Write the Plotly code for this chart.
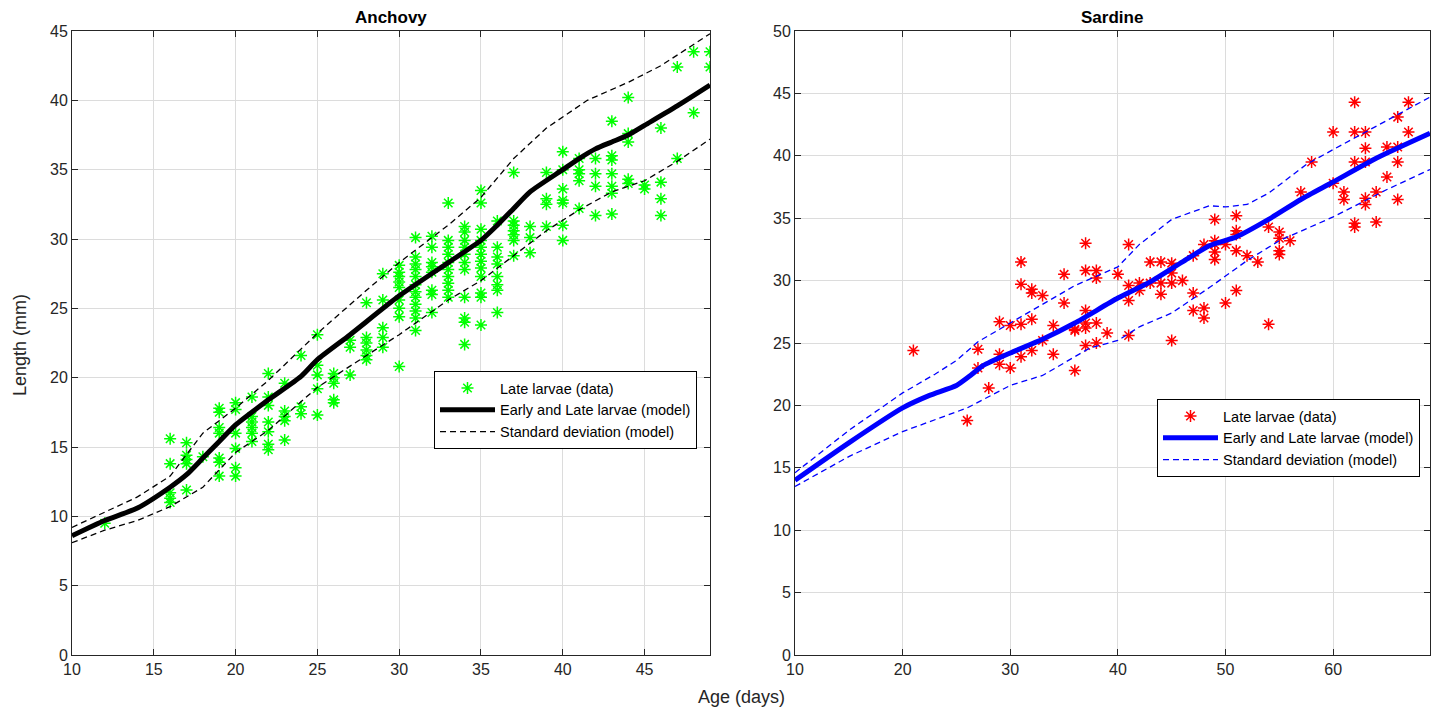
import plotly.graph_objects as go

# ---------------- Anchovy data ----------------
anch_days = {
    12: [9.5],
    16: [15.6, 13.8, 11.7, 11.3, 11.0],
    17: [15.3, 14.4, 14.1, 13.8, 11.9],
    18: [14.3],
    19: [17.8, 17.5, 16.4, 16.0, 14.2, 13.9, 12.9],
    20: [18.2, 17.7, 16.0, 14.9, 13.5, 12.9],
    21: [18.6, 17.2, 16.8, 16.4, 16.0, 15.4],
    22: [20.3, 18.6, 18.0, 16.8, 16.1, 15.2, 14.8],
    23: [19.6, 17.6, 17.2, 16.9, 15.5],
    24: [21.6, 17.9, 17.4],
    25: [23.1, 20.9, 20.2, 19.2, 17.3],
    26: [20.3, 20.0, 19.6, 18.4, 18.2],
    27: [22.7, 22.2, 20.2],
    28: [25.4, 22.9, 22.5, 22.0, 21.6, 21.3],
    29: [27.5, 25.6, 23.6, 22.9, 22.2],
    30: [28.1, 27.6, 27.3, 26.9, 26.5, 25.6, 25.0, 24.4, 20.8],
    31: [30.1, 28.7, 28.2, 27.8, 27.3, 26.7, 26.2, 25.8, 25.3, 24.8, 24.3, 23.4],
    32: [30.2, 29.4, 28.3, 28.0, 27.6, 26.3, 26.0, 24.7],
    33: [32.6, 29.9, 29.4, 28.9, 28.3, 27.8, 27.3, 26.8, 26.3, 25.8],
    34: [30.9, 30.5, 29.9, 29.4, 28.9, 28.3, 27.8, 25.8, 24.3, 24.0, 22.4],
    35: [33.5, 32.6, 30.7, 29.9, 29.4, 28.9, 28.4, 27.9, 27.3, 26.1, 25.8, 23.8],
    36: [31.3, 29.4, 28.7, 28.2, 27.3, 26.7, 26.3, 24.7],
    37: [34.8, 31.3, 31.0, 30.6, 30.3, 29.9, 28.8],
    38: [30.9, 30.1, 29.0],
    39: [34.8, 32.9, 32.5, 30.9],
    40: [36.3, 35.0, 33.6, 32.8, 32.6, 31.0, 29.9],
    41: [35.8, 35.0, 34.7, 34.2, 32.2],
    42: [35.8, 34.7, 33.8, 31.7],
    43: [38.5, 36.0, 35.7, 34.7, 33.8, 33.3, 31.8],
    44: [40.2, 37.6, 37.0, 34.3, 34.0],
    45: [33.9, 33.6],
    46: [38.0, 34.1, 32.9, 31.7],
    47: [42.4, 35.8],
    48: [43.5, 39.1],
    49: [43.5, 42.4],
}
anch_age = [d for d, vals in anch_days.items() for _ in vals]
anch_len = [v for d, vals in anch_days.items() for v in vals]

anch_model_age = [10, 12, 14, 16, 17, 18, 19, 20, 22, 24, 25, 27, 30, 33, 35, 36, 37, 38, 40, 41, 42, 43, 44, 45, 47, 49]
anch_model_len = [8.6, 9.7, 10.6, 12.1, 13.0, 14.2, 15.4, 16.6, 18.4, 20.1, 21.3, 23.1, 25.9, 28.3, 29.9, 31.0, 32.2, 33.4, 35.0, 35.8, 36.5, 37.0, 37.5, 38.2, 39.6, 41.1]

anch_up_age = [10, 12, 14, 16, 18, 19, 20, 22, 25, 28, 30, 33, 35, 37, 39, 41.5, 44, 46, 49]
anch_up_len = [9.2, 10.3, 11.4, 12.9, 16.0, 16.9, 17.8, 19.8, 23.2, 26.3, 28.3, 31.0, 33.0, 35.8, 38.0, 40.0, 41.3, 42.5, 44.8]

anch_lo_age = [10, 12, 14, 16, 18, 20, 22, 25, 28, 30, 33, 35, 37, 39, 41, 43, 45, 47, 49]
anch_lo_len = [8.1, 9.0, 9.7, 10.7, 12.1, 14.6, 16.2, 19.3, 21.6, 23.1, 25.6, 27.0, 28.8, 30.6, 32.1, 33.4, 34.2, 35.6, 37.2]

# ---------------- Sardine data ----------------
sard_days = {
    21: [24.4],
    26: [18.8],
    27: [24.5, 23.0],
    28: [21.4],
    29: [26.7, 24.1, 23.3],
    30: [26.4, 23.0],
    31: [31.5, 29.7, 26.5, 23.9],
    32: [29.3, 29.0, 26.9, 24.4],
    33: [28.8, 25.2],
    34: [26.4, 24.1],
    35: [30.5, 28.2],
    36: [26.1, 26.0, 22.8],
    37: [33.0, 30.8, 27.6, 26.6, 26.2, 24.8],
    38: [30.8, 30.2, 26.6, 25.0],
    39: [25.8],
    40: [30.5],
    41: [32.9, 29.6, 28.4, 25.6],
    42: [29.8, 29.2],
    43: [31.5, 29.8],
    44: [31.5, 29.8, 28.9],
    45: [31.4, 30.6, 29.8, 25.2],
    46: [30.0],
    47: [32.0, 29.0, 27.6],
    48: [32.9, 27.8, 27.0],
    49: [34.9, 33.2, 32.9, 32.3, 31.7],
    50: [32.9, 28.2],
    51: [35.2, 34.0, 33.7, 32.4, 29.2],
    52: [32.0],
    53: [31.5],
    54: [34.3, 26.5],
    55: [33.9, 33.4, 32.4, 32.1],
    56: [33.2],
    57: [37.1],
    58: [39.5],
    60: [41.9, 37.8],
    61: [37.1, 36.5],
    62: [44.3, 41.9, 39.5, 34.6, 34.3],
    63: [41.9, 40.6, 39.5, 36.6, 36.1],
    64: [37.1, 34.7],
    65: [40.7, 38.3],
    66: [43.1, 40.7, 39.5, 36.5],
    67: [44.3, 41.9],
}
sard_age = [d for d, vals in sard_days.items() for _ in vals]
sard_len = [v for d, vals in sard_days.items() for v in vals]

sard_model_age = [10, 15, 20, 22.5, 25, 26.3, 27.5, 30, 33, 36, 40, 43, 46, 48.5, 51, 54, 57, 60, 64, 69]
sard_model_len = [14.0, 17.0, 19.8, 20.8, 21.6, 22.4, 23.2, 24.2, 25.3, 26.6, 28.6, 29.9, 31.5, 32.8, 33.5, 34.9, 36.5, 37.9, 39.8, 41.8]

sard_up_age = [10, 15, 20, 23, 25, 27, 30, 33, 36, 40, 42, 45, 48.5, 50, 52, 54, 57.5, 60, 65, 69]
sard_up_len = [14.6, 18.0, 21.0, 22.5, 23.6, 25.1, 26.6, 28.1, 29.6, 31.1, 32.9, 34.9, 36.0, 35.9, 36.1, 37.0, 39.3, 40.5, 42.8, 44.7]

sard_lo_age = [10, 15, 20, 26, 30, 33, 37.4, 40, 42, 45, 48.6, 52, 55, 60, 65, 69]
sard_lo_len = [13.5, 15.9, 17.9, 19.8, 21.6, 22.4, 24.6, 25.2, 26.3, 27.4, 29.5, 31.6, 33.2, 35.1, 37.3, 38.9]

anch_xticks = [10, 15, 20, 25, 30, 35, 40, 45]
anch_yticks = [0, 5, 10, 15, 20, 25, 30, 35, 40, 45]
sard_xticks = [10, 20, 30, 40, 50, 60]
sard_yticks = [0, 5, 10, 15, 20, 25, 30, 35, 40, 45, 50]

FONT = "Liberation Sans, Arial, Helvetica, sans-serif"
AX = "#262626"
DASH = "6px,4px"

fig = go.Figure()

# Anchovy
fig.add_trace(go.Scatter(x=anch_age, y=anch_len, mode="markers", name="Late larvae (data)",
                         marker=dict(symbol="asterisk-open", size=10, color="#00ff00",
                                     line=dict(color="#00ff00", width=1.5)),
                         xaxis="x", yaxis="y", legend="legend"))
fig.add_trace(go.Scatter(x=anch_model_age, y=anch_model_len, mode="lines", line_shape="spline",
                         name="Early and Late larvae (model)",
                         line=dict(color="black", width=5, smoothing=0.6), xaxis="x", yaxis="y", legend="legend"))
fig.add_trace(go.Scatter(x=anch_up_age, y=anch_up_len, mode="lines",
                         name="Standard deviation (model)",
                         line=dict(color="black", width=1.3, dash=DASH),
                         xaxis="x", yaxis="y", legend="legend"))
fig.add_trace(go.Scatter(x=anch_lo_age, y=anch_lo_len, mode="lines", showlegend=False,
                         line=dict(color="black", width=1.3, dash=DASH),
                         xaxis="x", yaxis="y"))

# Sardine
fig.add_trace(go.Scatter(x=sard_age, y=sard_len, mode="markers", name="Late larvae (data)",
                         marker=dict(symbol="asterisk-open", size=10, color="#ff0000",
                                     line=dict(color="#ff0000", width=1.5)),
                         xaxis="x2", yaxis="y2", legend="legend2"))
fig.add_trace(go.Scatter(x=sard_model_age, y=sard_model_len, mode="lines", line_shape="spline",
                         name="Early and Late larvae (model)",
                         line=dict(color="#0000ff", width=5, smoothing=0.6), xaxis="x2", yaxis="y2", legend="legend2"))
fig.add_trace(go.Scatter(x=sard_up_age, y=sard_up_len, mode="lines",
                         name="Standard deviation (model)",
                         line=dict(color="#0000ff", width=1.3, dash=DASH),
                         xaxis="x2", yaxis="y2", legend="legend2"))
fig.add_trace(go.Scatter(x=sard_lo_age, y=sard_lo_len, mode="lines", showlegend=False,
                         line=dict(color="#0000ff", width=1.3, dash=DASH),
                         xaxis="x2", yaxis="y2"))

axis_common = dict(showline=True, linecolor=AX, linewidth=1, mirror="ticks",
                   ticks="inside", ticklen=6, tickcolor=AX, showgrid=True,
                   gridcolor="#dcdcdc", gridwidth=1, zeroline=False,
                   tickfont=dict(family=FONT, size=16, color=AX))

W, H = 1434, 709
L, R, T, B = 72, 4, 31, 54
pw = W - L - R
ph = H - T - B

def px(xpix):
    return (xpix - L) / pw

def py(ypix):
    return 1 - (ypix - T) / ph

legend_common = dict(bgcolor="white", bordercolor="black", borderwidth=1,
                     font=dict(family=FONT, size=14.5, color="black"),
                     tracegroupgap=0, itemwidth=55)

fig.update_layout(
    width=W, height=H,
    margin=dict(l=L, r=R, t=T, b=B),
    paper_bgcolor="white", plot_bgcolor="white",
    font=dict(family=FONT, size=16, color=AX),
    xaxis=dict(domain=[0, px(710)], range=[10, 49], tickvals=anch_xticks, anchor="y", **axis_common),
    yaxis=dict(domain=[0, 1], range=[0, 45], tickvals=anch_yticks, anchor="x", **axis_common),
    xaxis2=dict(domain=[px(795), 1], range=[10, 69], tickvals=sard_xticks, anchor="y2", **axis_common),
    yaxis2=dict(domain=[0, 1], range=[0, 50], tickvals=sard_yticks, anchor="x2", **axis_common),
    legend=dict(x=px(697), y=py(410), xanchor="right", yanchor="middle", **legend_common),
    legend2=dict(x=px(1420), y=py(438), xanchor="right", yanchor="middle", **legend_common),
    showlegend=True,
)

fig.add_annotation(text="<b>Anchovy</b>", x=px(391), y=py(17), xref="paper", yref="paper",
                   showarrow=False, font=dict(family=FONT, size=17, color="black"),
                   xanchor="center", yanchor="middle")
fig.add_annotation(text="<b>Sardine</b>", x=px(1112), y=py(17), xref="paper", yref="paper",
                   showarrow=False, font=dict(family=FONT, size=17, color="black"),
                   xanchor="center", yanchor="middle")
fig.add_annotation(text="Age (days)", x=px(741), y=py(697), xref="paper", yref="paper",
                   showarrow=False, font=dict(family=FONT, size=18, color=AX),
                   xanchor="center", yanchor="middle")
fig.add_annotation(text="Length (mm)", x=px(20), y=py(345), xref="paper", yref="paper",
                   showarrow=False, textangle=-90, font=dict(family=FONT, size=18, color=AX),
                   xanchor="center", yanchor="middle")

fig.write_html("out.html")
